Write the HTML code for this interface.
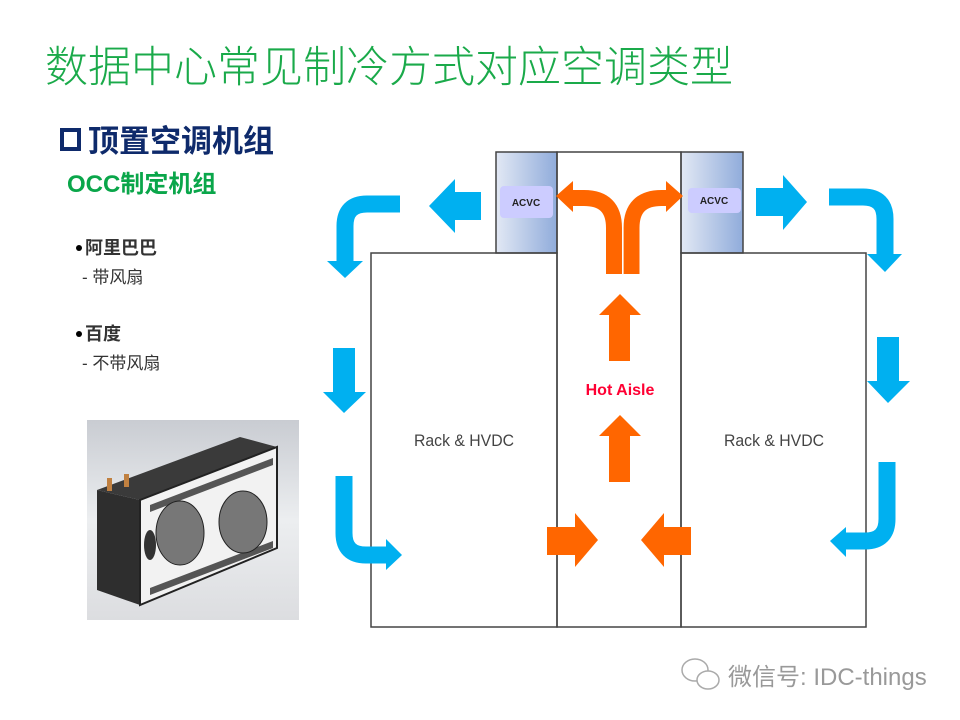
<!DOCTYPE html>
<html><head><meta charset="utf-8"><style>
html,body{margin:0;padding:0;background:#fff;}
svg{display:block;}
</style></head><body>
<svg width="960" height="720" viewBox="0 0 960 720" xmlns="http://www.w3.org/2000/svg">
<defs>
<linearGradient id="col" x1="0" y1="0" x2="1" y2="0"><stop offset="0" stop-color="#e2e8f4"/><stop offset="1" stop-color="#90acdb"/></linearGradient>
<linearGradient id="bg" x1="0" y1="0" x2="0" y2="1"><stop offset="0" stop-color="#c9ccd2"/><stop offset="0.5" stop-color="#eceef0"/><stop offset="1" stop-color="#dcdde0"/></linearGradient>
</defs>
<rect width="960" height="720" fill="#fff"/>
<text x="45" y="82" font-family="'Liberation Sans','Noto Sans CJK SC',sans-serif" font-size="43" font-weight="300" fill="#1aaa4a">数据中心常见制冷方式对应空调类型</text>
<rect x="62" y="130" width="17" height="19" fill="none" stroke="#0e2a6b" stroke-width="4"/>
<text x="88" y="152" font-family="'Liberation Sans','Noto Sans CJK SC',sans-serif" font-size="31" font-weight="bold" fill="#0e2a6b">顶置空调机组</text>
<text x="67" y="192" font-family="'Liberation Sans','Noto Sans CJK SC',sans-serif" font-size="24" font-weight="bold" fill="#0aa64a">OCC制定机组</text>
<g font-family="'Liberation Sans','Noto Sans CJK SC',sans-serif" font-size="17" fill="#333">
<circle cx="79" cy="248" r="3" fill="#000"/><text x="85" y="254" font-weight="bold" font-size="18">阿里巴巴</text>
<text x="82" y="283">- 带风扇</text>
<circle cx="79" cy="334" r="3" fill="#000"/><text x="85" y="340" font-weight="bold" font-size="18">百度</text>
<text x="82" y="369">- 不带风扇</text>
</g>
<!-- image -->
<rect x="87" y="420" width="212" height="200" fill="url(#bg)"/>
<polygon points="97,490 240,437 277,447 140,500" fill="#3a3a3a"/>
<polygon points="97,490 140,500 140,605 97,590" fill="#2e2e2e"/>
<polygon points="140,500 277,447 277,548 140,605" fill="#f2f2f2" stroke="#222" stroke-width="2"/>
<polygon points="150,505 273,458 273,465 150,512" fill="#555"/>
<polygon points="150,595 273,548 273,541 150,588" fill="#555"/>
<ellipse cx="180" cy="533" rx="24" ry="32" fill="#777" stroke="#222"/>
<ellipse cx="243" cy="522" rx="24" ry="31" fill="#777" stroke="#222"/>
<ellipse cx="150" cy="545" rx="6" ry="15" fill="#333"/>
<rect x="107" y="478" width="5" height="13" fill="#c08040"/><rect x="124" y="474" width="5" height="13" fill="#c08040"/>
<!-- diagram boxes -->
<g stroke="#444" stroke-width="1.5" fill="none">
<rect x="496" y="152" width="61" height="101" fill="url(#col)"/>
<rect x="681" y="152" width="62" height="101" fill="url(#col)"/>
<rect x="371" y="253" width="186" height="374"/>
<rect x="557" y="152" width="124" height="475"/>
<rect x="681" y="253" width="185" height="374"/>
</g>
<rect x="500" y="186" width="53" height="32" rx="4" fill="#ccccff"/>
<rect x="688" y="188" width="53" height="25" rx="4" fill="#ccccff"/>
<g font-family="'Liberation Sans','DejaVu Sans',sans-serif" font-size="10" font-weight="bold" fill="#222" text-anchor="middle">
<text x="526" y="206">ACVC</text><text x="714" y="204">ACVC</text></g>
<g font-family="'Liberation Sans',sans-serif" font-size="17" fill="#444" text-anchor="middle">
<text x="464" y="446" textLength="100" lengthAdjust="spacingAndGlyphs">Rack &amp; HVDC</text><text x="774" y="446" textLength="100" lengthAdjust="spacingAndGlyphs">Rack &amp; HVDC</text></g>
<text x="620" y="395" font-family="'Liberation Sans',sans-serif" font-size="16" font-weight="bold" fill="#ff0033" text-anchor="middle">Hot Aisle</text>
<!-- orange -->
<g fill="#ff6600">
<polygon points="609,361 630,361 630,315 641,315 620,294 599,315 609,315"/>
<polygon points="609,482 630,482 630,436 641,436 620,415 599,436 609,436"/>
<polygon points="547,527 575,527 575,513 598,540 575,567 575,555 547,555"/>
<polygon points="691,527 664,527 664,513 641,540 664,567 664,555 691,555"/>
<polygon points="573,181 573,212 556,196"/>
<polygon points="666,181 666,212 683,196"/>
</g>
<g fill="none" stroke="#ff6600" stroke-width="16">
<path d="M614,274 L614,228 Q614,198 584,198 L572,198"/>
<path d="M631.5,274 L631.5,228 Q631.5,198 661.5,198 L667,198"/>
</g>
<line x1="622.8" y1="215" x2="622.8" y2="276" stroke="#fff" stroke-width="1.6"/>
<!-- blue -->
<g fill="#00b0f0">
<polygon points="481,192 455,192 455,179 429,206 455,233 455,220 481,220"/>
<polygon points="327,261 363,261 345,278"/>
<polygon points="333,348 355,348 355,392 366,392 344,413 323,392 333,392"/>
<polygon points="386,539 386,570 402,555"/>
<polygon points="756,188 783,188 783,175 807,202 783,230 783,216 756,216"/>
<polygon points="867,254 902,254 885,272"/>
<polygon points="877,337 899,337 899,381 910,381 888,403 867,381 877,381"/>
<polygon points="846,527 846,557 830,541"/>
</g>
<g fill="none" stroke="#00b0f0" stroke-width="17">
<path d="M400,204 L367,204 Q345,204 345,226 L345,262"/>
<path d="M344,476 L344,533 Q344,555 366,555 L387,555"/>
<path d="M829,197 L863,197 Q885,197 885,219 L885,255"/>
<path d="M887,462 L887,519 Q887,541 865,541 L845,541"/>
</g>
<!-- watermark -->
<g fill="none" stroke="#aaa" stroke-width="1.5">
<ellipse cx="695" cy="670" rx="13" ry="11"/><ellipse cx="708" cy="680" rx="11" ry="9" fill="#fff"/>
</g>
<text x="728" y="685" font-family="'Liberation Sans','Noto Sans CJK SC',sans-serif" font-size="24" fill="#999">微信号: IDC-things</text>
</svg>
</body></html>
